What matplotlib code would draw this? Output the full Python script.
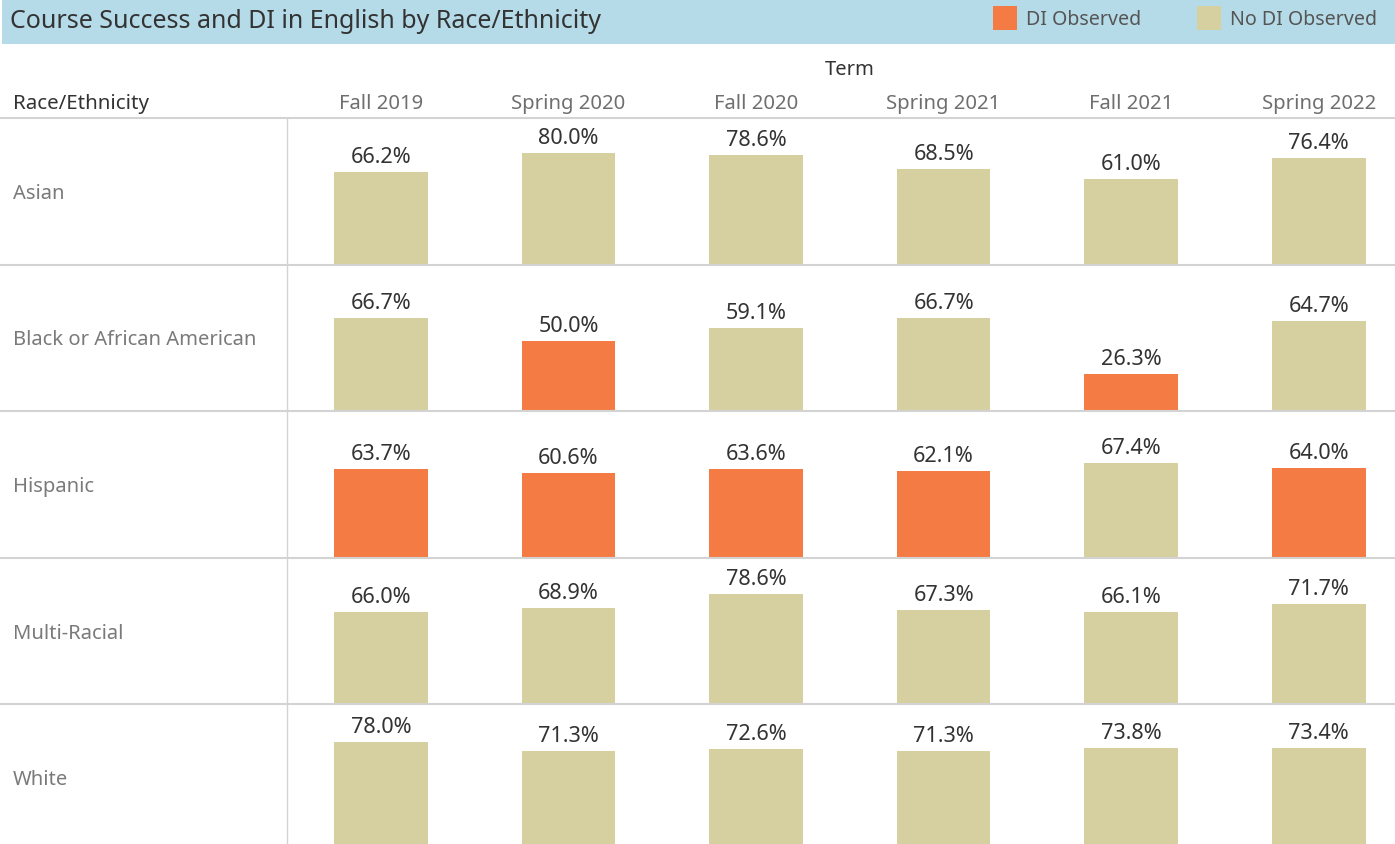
import matplotlib
matplotlib.use('Agg')
import matplotlib.pyplot as plt
from matplotlib.patches import Rectangle
from matplotlib.lines import Line2D

terms = ['Fall 2019', 'Spring 2020', 'Fall 2020', 'Spring 2021', 'Fall 2021', 'Spring 2022']
groups = ['Asian', 'Black or African American', 'Hispanic', 'Multi-Racial', 'White']
asian = [66.2, 80.0, 78.6, 68.5, 61.0, 76.4]
black = [66.7, 50.0, 59.1, 66.7, 26.3, 64.7]
hispanic = [63.7, 60.6, 63.6, 62.1, 67.4, 64.0]
multi = [66.0, 68.9, 78.6, 67.3, 66.1, 71.7]
white = [78.0, 71.3, 72.6, 71.3, 73.8, 73.4]
di_asian = [0, 0, 0, 0, 0, 0]
di_black = [0, 1, 0, 0, 1, 0]
di_hispanic = [1, 1, 1, 1, 0, 1]
di_multi = [0, 0, 0, 0, 0, 0]
di_white = [0, 0, 0, 0, 0, 0]
values = [asian, black, hispanic, multi, white]
flags = [di_asian, di_black, di_hispanic, di_multi, di_white]

ORANGE = '#f57b45'
TAN = '#d6cf9f'
GRID = '#d3d3d3'
FONT = 'Noto Sans'

W, H = 1395, 844
fig = plt.figure(figsize=(W / 100, H / 100), dpi=100)
fig.patch.set_facecolor('white')

def fx(x):
    return x / W

def fy(y):
    return 1 - y / H

# title bar
fig.add_artist(Rectangle((fx(2), fy(44)), fx(W) - fx(2), 44 / H, transform=fig.transFigure,
                         facecolor='#b6dbe8', edgecolor='none', zorder=0))
fig.text(fx(10), fy(22), 'Course Success and DI in English by Race/Ethnicity', fontsize=18,
         family=FONT, color='#333333', ha='left', va='center')

# legend
for x0, col, lab in [(993, ORANGE, 'DI Observed'), (1197, TAN, 'No DI Observed')]:
    fig.add_artist(Rectangle((fx(x0), fy(30)), 24 / W, 24 / H, transform=fig.transFigure,
                             facecolor=col, edgecolor='none'))
    fig.text(fx(x0 + 33), fy(20), lab, fontsize=14.1, family=FONT, color='#555555',
             ha='left', va='center')

# headers
fig.text(fx(850), fy(70), 'Term', fontsize=14.5, family=FONT, color='#333333', ha='center', va='center')
fig.text(fx(13), fy(104), 'Race/Ethnicity', fontsize=14.8, family=FONT, color='#333333',
         ha='left', va='center')

row_top = 118
row_h = 146.6
col_w = 187.6
left = 287

for i, t in enumerate(terms):
    fig.text(fx(left + col_w * (i + 0.5)), fy(104), t, fontsize=14.6, family=FONT,
             color='#6f6f6f', ha='center', va='center')

# lines
for k in range(5):
    y = row_top + k * row_h
    fig.add_artist(Line2D([0, 1], [fy(y), fy(y)], transform=fig.transFigure, color=GRID, lw=1.5))
fig.add_artist(Line2D([fx(left), fx(left)], [fy(row_top), 0], transform=fig.transFigure,
                      color=GRID, lw=1))

for r, (g, vals, fl) in enumerate(zip(groups, values, flags)):
    top = row_top + r * row_h
    ax = fig.add_axes([fx(left), fy(top + row_h), (col_w * 6) / W, row_h / H])
    ax.set_xlim(-0.5, 5.5)
    ax.set_ylim(0, 104.7)
    ax.set_axis_off()
    cols = [ORANGE if f else TAN for f in fl]
    ax.bar(range(len(vals)), vals, width=0.5, color=cols, zorder=2)
    for i, v in enumerate(vals):
        ax.annotate(f'{v:.1f}%', (i, v), xytext=(0, 6.5), textcoords='offset points',
                    ha='center', va='baseline', fontsize=15.6, family=FONT, color='#333333')
    fig.text(fx(13), fy(top + row_h / 2 + 2.5), g, fontsize=14.5, family=FONT, color='#7a7a7a',
             ha='left', va='center')

fig.savefig('out.png', dpi=100)
